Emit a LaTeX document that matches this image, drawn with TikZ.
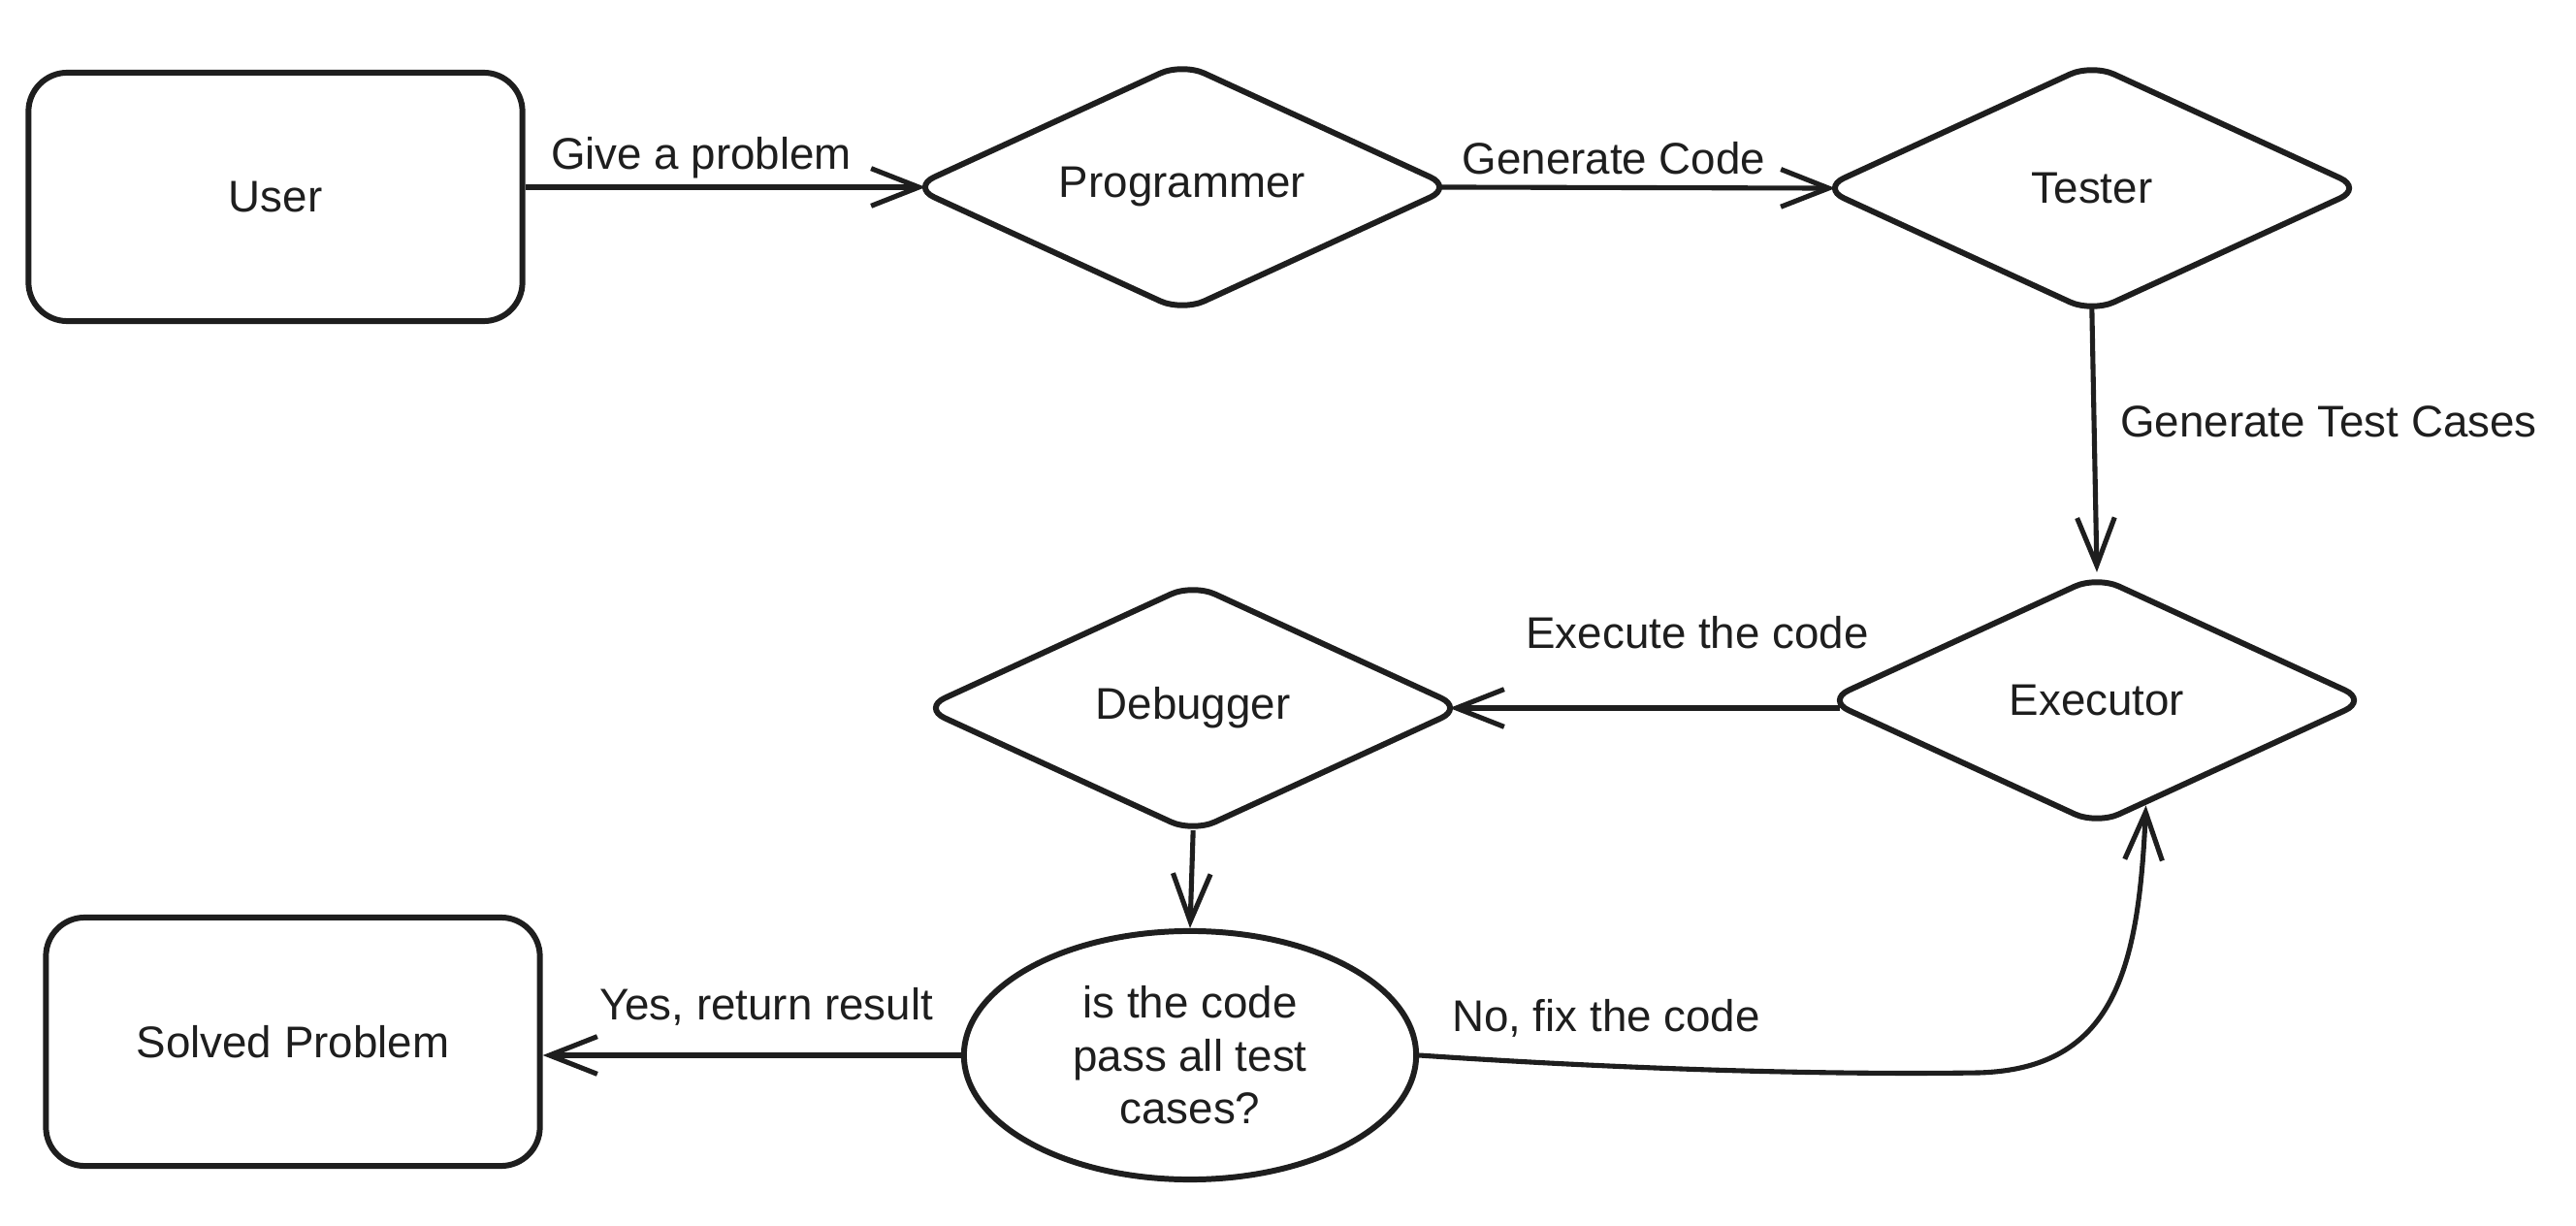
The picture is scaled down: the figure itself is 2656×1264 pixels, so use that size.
\documentclass[tikz,border=0pt]{standalone}
\usepackage{fontspec}
\setmainfont{Liberation Sans}
\usetikzlibrary{shapes.geometric,arrows.meta,calc}
\definecolor{ink}{HTML}{1E1E1E}
\begin{document}
\begin{tikzpicture}[x=0.01cm,y=-0.01cm,
  every node/.style={font=\fontsize{13}{15.5}\selectfont, text=ink},
  rbox/.style={draw=ink, line width=1.7pt, rounded corners=0.4cm, minimum width=5.09cm, minimum height=2.56cm, inner sep=0pt},
  dmd/.style={diamond, aspect=2.2, draw=ink, line width=1.7pt, rounded corners=0.25cm, minimum width=5.59cm, minimum height=2.58cm, inner sep=0pt},
  ell/.style={ellipse, draw=ink, line width=1.7pt, minimum width=4.66cm, minimum height=2.56cm, inner sep=0pt, align=center},
  conn/.style={draw=ink, line width=1.45pt, -{Straight Barb[length=14pt,width=11pt]}},
  intip/.style={shorten >=-0.18cm},
  outtip/.style={shorten <=-0.18cm},
  lbl/.style={inner sep=0pt}]
\useasboundingbox (0,0) rectangle (2656,1264);
\fill[white] (0,0) rectangle (2656,1264);

\node[rbox] (user) at (284,203) {User};
\node[dmd] (prog) at (1219,193) {Programmer};
\node[dmd] (test) at (2157,194) {Tester};
\node[dmd] (exec) at (2162,722) {Executor};
\node[dmd] (debug) at (1230,730) {Debugger};
\node[ell] (check) at (1227,1088) {is the code\\pass all test\\cases?};
\node[rbox] (solved) at (302,1074) {Solved Problem};

\draw[conn, intip] (prog.west -| user.east) -- (prog.west);
\draw[conn, intip, outtip] (prog.east) -- (test.west);
\draw[conn, shorten <=-0.1cm] (test.south) -- (exec.north);
\draw[conn, intip, outtip] (debug.east -| exec.west) -- (debug.east);
\draw[conn, shorten <=-0.06cm] (debug.south) -- (check.north);
\draw[conn] (check.west) -- (check.west -| solved.east);
\draw[conn] (check.east) .. controls (1700,1104) and (1900,1108) .. (2040,1106)
   .. controls (2180,1102) and (2205,1000) .. (exec.-65);

\node[lbl] (l1) at (723,163) {Give a problem};
\node[lbl] (l2) at (1664,163) {Generate Code};
\node[lbl] (l3) at (2401,435) {Generate Test Cases};
\node[lbl] (l4) at (1750,652) {Execute the code};
\node[lbl] (l5) at (790,1038) {Yes, return result};
\node[lbl] (l6) at (1656,1050) {No, fix the code};
\end{tikzpicture}
\end{document}
